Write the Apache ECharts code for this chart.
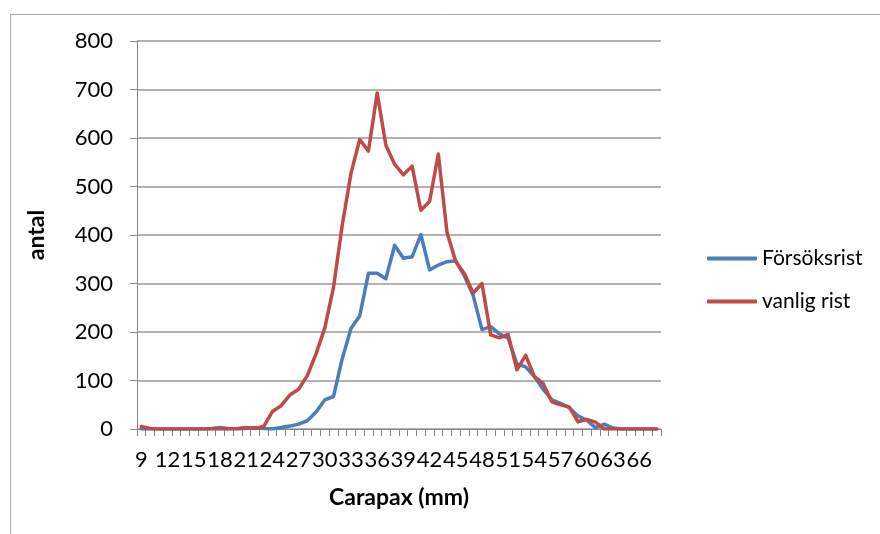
<!DOCTYPE html>
<html>
<head>
<meta charset="utf-8">
<script src="https://cdn.jsdelivr.net/npm/echarts@6/dist/echarts.min.js"></script>
<style>
  html, body { margin: 0; padding: 0; background: #ffffff; }
  #chart { width: 880px; height: 534px; }
</style>
</head>
<body>
<div id="chart"></div>
<script>
// Carapax length classes (mm)
const carapax = [];
for (let mm = 9; mm <= 68; mm++) carapax.push(String(mm));

// Catch counts per length class
const forsoksrist = [
  0, 0, 0, 0, 0, 0, 0, 0, 1, 3,
  1, 0, 1, 3, 1, 0, 3, 6, 10, 17,
  35, 60, 67, 145, 207, 233, 321, 321, 310, 379,
  352, 355, 401, 328, 338, 345, 347, 315, 275, 205,
  211, 196, 187, 134, 128, 108, 82, 60, 53, 44,
  27, 18, 3, 10, 2, 0, 0, 0, 0, 0
];
const vanligRist = [
  5, 1, 0, 0, 0, 0, 0, 0, 0, 0,
  0, 1, 3, 1, 5, 36, 48, 70, 82, 110,
  155, 208, 292, 420, 527, 597, 573, 693, 585, 546,
  524, 542, 451, 469, 567, 405, 345, 320, 280, 300,
  194, 188, 195, 122, 152, 108, 94, 56, 50, 45,
  15, 20, 14, 0, 0, 0, 0, 0, 0, 0
];

const yTicks = { min: 0, max: 800, step: 100 };

const FONT = 'Lato';
const chart = echarts.init(document.getElementById('chart'), null, { renderer: 'canvas' });

chart.setOption({
  animation: false,
  backgroundColor: '#ffffff',
  textStyle: { fontFamily: FONT },
  graphic: [{
    type: 'rect',
    silent: true,
    z: -10,
    shape: { x: 10.5, y: 14.5, width: 1000, height: 1000 },
    style: { fill: 'none', stroke: '#a6a6a6', lineWidth: 1 }
  }],
  grid: { left: 137, right: 219, top: 41, bottom: 105, containLabel: false },
  legend: {
    orient: 'vertical',
    left: 702,
    top: 243,
    itemWidth: 50,
    itemHeight: 4,
    itemGap: 22,
    icon: 'roundRect',
    textStyle: { fontFamily: FONT, fontSize: 21, color: '#000000' },
    data: ['Försöksrist', 'vanlig rist']
  },
  xAxis: {
    type: 'category',
    data: carapax,
    boundaryGap: true,
    name: 'Carapax (mm)',
    nameLocation: 'middle',
    nameGap: 57,
    nameTextStyle: { fontFamily: FONT, fontWeight: 'bold', fontSize: 23, color: '#000000' },
    axisLine: { lineStyle: { color: '#868686', width: 1 } },
    axisTick: { show: true, interval: 0, length: 7, lineStyle: { color: '#868686' } },
    axisLabel: { interval: 2, margin: 20, fontFamily: FONT, fontSize: 22, color: '#000000' },
    splitLine: { show: false }
  },
  yAxis: {
    type: 'value',
    min: yTicks.min,
    max: yTicks.max,
    interval: yTicks.step,
    name: 'antal',
    nameLocation: 'middle',
    nameGap: 89,
    nameRotate: 90,
    nameTextStyle: { fontFamily: FONT, fontWeight: 'bold', fontSize: 23, color: '#000000' },
    axisLine: { show: true, lineStyle: { color: '#868686', width: 1 } },
    axisTick: { show: true, length: 7, lineStyle: { color: '#868686' } },
    axisLabel: { margin: 24, fontFamily: FONT, fontSize: 22, color: '#000000' },
    splitLine: { show: true, lineStyle: { color: '#999999', width: 1.5 } }
  },
  series: [
    {
      name: 'Försöksrist',
      type: 'line',
      data: forsoksrist,
      symbol: 'none',
      color: '#4a7ebb',
      lineStyle: { color: '#4a7ebb', width: 3.5, cap: 'round', join: 'round' }
    },
    {
      name: 'vanlig rist',
      type: 'line',
      data: vanligRist,
      symbol: 'none',
      color: '#be4b48',
      lineStyle: { color: '#be4b48', width: 3.5, cap: 'round', join: 'round' }
    }
  ]
});
</script>
</body>
</html>
